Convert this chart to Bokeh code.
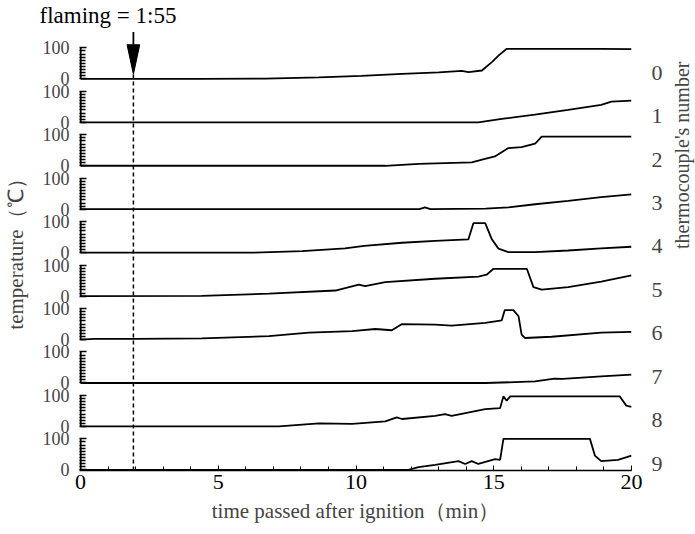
import math
from bokeh.plotting import figure
from bokeh.models import FixedTicker, LinearAxis, Range1d
from bokeh.embed import file_html
from bokeh.resources import INLINE

# ---- data (time in min, temperature in degC) ----
tc0_t = [0, 2, 4.4, 6.7, 8.65, 10.2, 11.67, 13.0, 13.84, 14.08, 14.57, 14.93, 15.17, 15.47, 18.9, 20]
tc0_v = [0, 0, 0, 1, 5, 10, 16, 21, 26, 22, 27, 54, 75, 97, 97, 96]
tc1_t = [0, 6, 10, 14.44, 15.29, 16.49, 17.7, 18.9, 19.27, 20]
tc1_v = [0, 0, 0, 0, 11, 25, 40, 56, 67, 70]
tc2_t = [0, 6, 11.06, 12.27, 14.2, 14.68, 15.04, 15.53, 16.01, 16.5, 16.74, 20]
tc2_v = [0, 0, 0, 6, 11, 22, 30, 57, 60, 71, 94, 94]
tc3_t = [0, 12.3, 12.5, 12.7, 14.7, 15.53, 16.5, 17.7, 18.9, 20]
tc3_v = [0, 0, 6, 0, 2, 6, 16, 27, 39, 48]
tc4_t = [0, 6.23, 8.04, 9.6, 10.3, 11.67, 12.87, 14.08, 14.26, 14.69, 14.93, 15.17, 15.53, 16.5, 17.7, 18.9, 20]
tc4_v = [0, 0, 5, 14, 22, 32, 38, 43, 95, 95, 43, 13, 2, 2, 7, 14, 19]
tc5_t = [0, 4.4, 6.84, 9.25, 10.1, 10.33, 11.06, 12.87, 14.44, 14.74, 14.99, 16.2, 16.44, 16.74, 17.7, 18.9, 20]
tc5_v = [0, 1, 8, 18, 37, 32, 45, 56, 63, 69, 88, 88, 29, 21, 29, 47, 67]
tc6_t = [0, 0.5, 2, 4.4, 6.84, 8.29, 9.86, 10.7, 11.3, 11.67, 12.87, 13.47, 14.69, 15.29, 15.4, 15.71, 15.9, 16.01, 16.13, 17.1, 18.9, 20]
tc6_v = [0, 2, 2, 4, 11, 22, 27, 34, 30, 50, 48, 45, 54, 62, 95, 95, 75, 16, 5, 9, 22, 25]
tc7_t = [0, 14.7, 16.5, 17.2, 17.5, 18.9, 20]
tc7_v = [0, 0, 5, 14, 13, 21, 27]
tc8_t = [0, 7.2, 8.65, 9.86, 11.06, 11.48, 11.67, 12.87, 13.23, 13.47, 14.69, 15.23, 15.35, 15.47, 15.6, 19.57, 19.81, 20]
tc8_v = [0, 0, 10, 8, 16, 29, 24, 34, 40, 34, 56, 59, 97, 83, 97, 97, 67, 63]
tc9_t = [0, 11.9, 12.27, 12.87, 13.72, 13.96, 14.2, 14.44, 15.05, 15.23, 15.35, 18.49, 18.67, 18.9, 19.51, 20]
tc9_v = [0, 0, 9, 16, 28, 19, 28, 19, 35, 32, 100, 100, 46, 28, 32, 46]

series_t = [tc0_t, tc1_t, tc2_t, tc3_t, tc4_t, tc5_t, tc6_t, tc7_t, tc8_t, tc9_t]
series_v = [tc0_v, tc1_v, tc2_v, tc3_v, tc4_v, tc5_v, tc6_v, tc7_v, tc8_v, tc9_v]
tc_labels = ["0", "1", "2", "3", "4", "5", "6", "7", "8", "9"]
x_ticks = [0, 5, 10, 15, 20]
flaming_time = 1 + 55 / 60.0
flaming_text = "flaming = 1:55"

SERIF = "Liberation Serif"
PANEL = 140          # vertical spacing of panels (in temperature units)
n = len(series_t)
offsets = [(n - 1 - i) * PANEL for i in range(n)]

p = figure(frame_width=552, frame_height=443, output_backend="svg", toolbar_location=None,
           x_range=Range1d(-0.04, 20), y_range=Range1d(-2, 1425.6),
           min_border_left=70, min_border_right=0, min_border_bottom=0, min_border_top=0,
           title=flaming_text)
p.grid.visible = False
p.outline_line_color = None
p.background_fill_color = "white"

t = p.title
t.text_font = SERIF
t.text_font_size = "23px"
t.text_font_style = "normal"
t.text_color = "black"
t.align = "left"
t.offset = -40
t.standoff = 0

# data lines
for off, ts, vs in zip(offsets, series_t, series_v):
    p.line(ts, [v + off for v in vs], line_color="black", line_width=1.8)

# left ruler lines per panel
p.segment(x0=[0] * n, x1=[0] * n, y0=offsets, y1=[o + 100 for o in offsets],
          line_color="black", line_width=2)

# flaming marker
tip = offsets[0] + 15
head = 95
p.segment(x0=[flaming_time], x1=[flaming_time], y0=[-2], y1=[tip],
          line_color="black", line_width=1.5, line_dash="4 3")
p.segment(x0=[flaming_time], x1=[flaming_time], y0=[tip + head], y1=[1411],
          line_color="black", line_width=1.8)
p.patch([flaming_time - 0.23, flaming_time + 0.23, flaming_time],
        [tip + head, tip + head, tip], fill_color="black", line_color="black")

# bottom axis
xa = p.xaxis[0]
xa.ticker = FixedTicker(ticks=x_ticks, minor_ticks=list(range(21)))
xa.axis_line_width = 1.5
xa.major_tick_in = 5
xa.major_tick_out = 0
xa.minor_tick_in = 4
xa.minor_tick_out = 0
xa.major_label_text_font = SERIF
xa.major_label_text_font_size = "22px"
xa.major_label_text_color = "black"
xa.major_label_standoff = 4
xa.axis_label = "time passed after ignition（min）"
xa.axis_label_text_font = SERIF
xa.axis_label_text_font_size = "21px"
xa.axis_label_text_font_style = "normal"
xa.axis_label_standoff = 7

# left axis (per-panel 0/100 scales)
ya = p.yaxis[0]
major = []
overrides = {}
minor = []
for o in offsets:
    major += [o, o + 100]
    overrides[o] = "0"
    overrides[o + 100] = "100"
    minor += [o + k for k in range(10, 100, 10)]
ya.ticker = FixedTicker(ticks=major, minor_ticks=minor)
ya.major_label_overrides = overrides
ya.axis_line_color = None
ya.major_tick_in = 7
ya.major_tick_out = 0
ya.minor_tick_in = 6
ya.minor_tick_out = 0
ya.major_tick_line_width = 1.5
ya.minor_tick_line_width = 1.3
ya.major_label_text_font = SERIF
ya.major_label_text_font_size = "18px"
ya.major_label_standoff = 10
ya.axis_label = "temperature（℃）"
ya.axis_label_text_font = SERIF
ya.axis_label_text_font_size = "21px"
ya.axis_label_text_font_style = "normal"
ya.axis_label_standoff = 12

# right axis: thermocouple numbers
ra = LinearAxis(ticker=FixedTicker(ticks=[o + 20 for o in offsets], minor_ticks=[]),
                major_label_overrides={o + 20: lab for o, lab in zip(offsets, tc_labels)})
ra.axis_line_color = None
ra.major_tick_line_color = None
ra.minor_tick_line_color = None
ra.major_tick_in = 0
ra.major_tick_out = 0
ra.major_label_text_font = SERIF
ra.major_label_text_font_size = "22px"
ra.major_label_standoff = 20
ra.axis_label = "thermocouple's number"
ra.axis_label_text_font = SERIF
ra.axis_label_text_font_size = "20px"
ra.axis_label_text_font_style = "normal"
ra.axis_label_standoff = 16
try:
    ra.axis_label_orientation = math.pi / 2
except Exception:
    pass
p.add_layout(ra, "right")

open("out.html", "w").write(file_html(p, INLINE))
